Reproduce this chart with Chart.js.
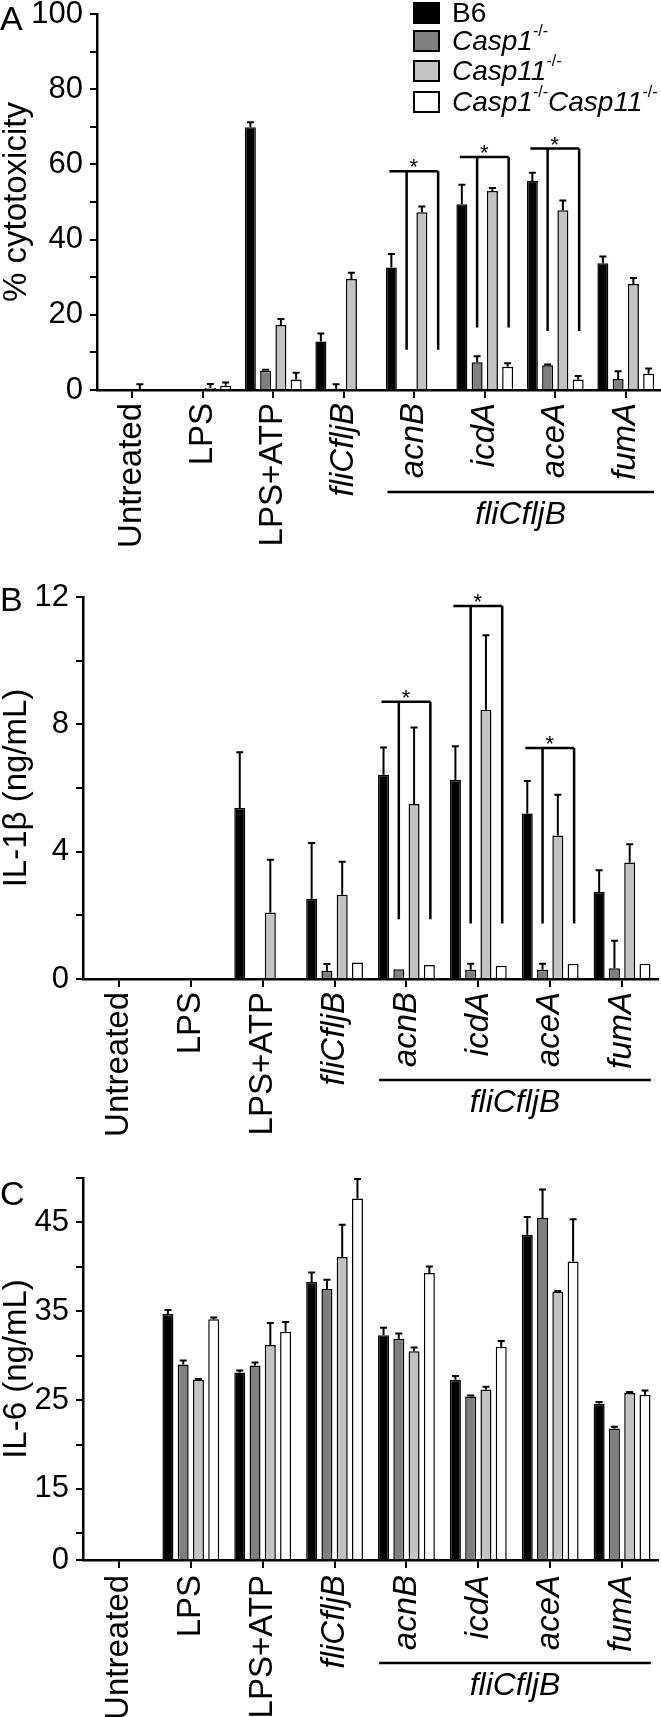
<!DOCTYPE html>
<html lang="en">
<head>
<meta charset="UTF-8">
<title>Cytotoxicity, IL-1β and IL-6</title>
<script src="https://cdn.jsdelivr.net/npm/chart.js"></script>
<style>
    body { margin: 0; background: #fff; }
    #page { position: relative; width: 661px; height: 1717px; overflow: hidden;
            font-family: 'Liberation Sans', Arial, sans-serif; color: #000; }
    #page canvas { position: absolute; left: 0; }
    .panel { position: absolute; left: 0; font-size: 34px; line-height: 1; }
    #legend { position: absolute; left: 413px; top: 0; font-size: 28px; }
    .row { position: absolute; left: 0; display: flex; align-items: center; height: 23px; white-space: nowrap; }
    .box { width: 27px; height: 22px; box-sizing: border-box; border: 2px solid #000; margin-right: 12px; flex: none; }
    .sup { font-size: 16px; position: relative; top: -10px; }
</style>
</head>
<body>
<div id="page">
    <canvas id="chartA" width="661" height="580" style="top:0"></canvas>
    <canvas id="chartB" width="661" height="560" style="top:580px"></canvas>
    <canvas id="chartC" width="661" height="567" style="top:1150px"></canvas>
    <div class="panel" style="top:1px">A</div>
    <div class="panel" style="top:582px">B</div>
    <div class="panel" style="top:1176px">C</div>
    <div id="legend">
        <div class="row" style="top:1px"><span class="box" style="background:#000"></span>B6</div>
        <div class="row" style="top:29px"><span class="box" style="background:#7f7f7f"></span><i>Casp1</i><span class="sup">-/-</span></div>
        <div class="row" style="top:59px"><span class="box" style="background:#c3c3c3"></span><i>Casp11</i><span class="sup">-/-</span></div>
        <div class="row" style="top:90px"><span class="box" style="background:#fff"></span><i>Casp1</i><span class="sup">-/-</span><i>Casp11</i><span class="sup">-/-</span></div>
    </div>
</div>

<script>
    const FONT = "'Liberation Sans', Arial, sans-serif";

    const categories = ['Untreated', 'LPS', 'LPS+ATP', 'fliCfljB', 'acnB', 'icdA', 'aceA', 'fumA'];
    const italicCats = [3, 4, 5, 6, 7];
    const genotypes = ['B6', 'Casp1-/-', 'Casp11-/-', 'Casp1-/-Casp11-/-'];
    const fills = ['#000000', '#7f7f7f', '#c3c3c3', '#ffffff'];

    // A: % cytotoxicity (mean, SD)
    const cytoB6 = [0, 0, 69.9, 12.9, 32.6, 49.4, 55.6, 33.7];
    const cytoB6Err = [0, 0, 1.3, 2.1, 3.6, 5.2, 2.2, 1.8];
    const cytoCasp1 = [0.3, 0, 5.1, 0.3, 0, 7.4, 6.6, 2.9];
    const cytoCasp1Err = [0, 0, 0.3, 1.2, 0, 1.6, 0.2, 2.1];
    const cytoCasp11 = [0, 0.5, 17.3, 29.5, 47.3, 52.9, 47.8, 28.2];
    const cytoCasp11Err = [1.5, 1.1, 1.6, 1.7, 1.5, 0.8, 2.6, 1.6];
    const cytoDko = [0, 1.1, 2.8, 0, 0, 6.2, 2.8, 4.3];
    const cytoDkoErr = [0, 0.9, 1.8, 0, 0, 0.9, 0.9, 1.4];

    // B: IL-1b ng/mL
    const il1bB6 = [0, 0, 5.37, 2.52, 6.42, 6.25, 5.2, 2.73];
    const il1bB6Err = [0, 0, 1.75, 1.75, 0.85, 1.06, 1.02, 0.69];
    const il1bCasp1 = [0, 0, 0, 0.26, 0.31, 0.29, 0.29, 0.34];
    const il1bCasp1Err = [0, 0, 0, 0.21, 0, 0.19, 0.19, 0.86];
    const il1bCasp11 = [0, 0, 2.09, 2.65, 5.5, 8.46, 4.51, 3.66];
    const il1bCasp11Err = [0, 0, 1.66, 1.03, 2.4, 2.34, 1.28, 0.57];
    const il1bDko = [0, 0, 0, 0.52, 0.44, 0.42, 0.48, 0.48];
    const il1bDkoErr = [0, 0, 0, 0, 0, 0, 0, 0];

    // C: IL-6 ng/mL
    const il6B6 = [0, 34.7, 28.1, 38.3, 32.3, 27.3, 43.6, 24.6];
    const il6B6Err = [0, 0.45, 0.23, 1.06, 0.83, 0.42, 2.0, 0.19];
    const il6Casp1 = [0, 29.0, 28.9, 37.5, 31.9, 25.4, 45.5, 21.8];
    const il6Casp1Err = [0, 0.46, 0.34, 1.05, 0.6, 0.11, 3.2, 0.19];
    const il6Casp11 = [0, 27.3, 31.2, 41.1, 30.5, 26.2, 37.2, 25.8];
    const il6Casp11Err = [0, 0.08, 2.49, 3.63, 0.41, 0.3, 0.07, 0.12];
    const il6Dko = [0, 34.1, 32.7, 47.7, 39.3, 31.0, 40.6, 25.6];
    const il6DkoErr = [0, 0.19, 1.09, 2.19, 0.75, 0.64, 4.75, 0.49];

    // significance brackets: category, bracket top, bracket bottom (axis units)
    const sigCatsA = [4, 5, 6];
    const sigTopA = [58.2, 62.0, 64.2];
    const sigBottomA = [10.7, 16.6, 15.7];
    const sigCatsB = [4, 5, 6];
    const sigTopB = [8.71, 11.72, 7.26];
    const sigBottomB = [1.88, 1.74, 1.74];

    // y tick values / labels
    const yTicksC = [0, 10, 15, 20, 25, 30, 35, 40, 45, 50];
    const yLabelsA = [0, 20, 40, 60, 80, 100];
    const yLabelsB = [0, 4, 8, 12];
    const yLabelsC = [0, 15, 25, 35, 45];

    // linear axis with the 0-10 stretch squeezed (broken axis in panel C)
    const SQUEEZE_BELOW = 10, SQUEEZE = 0.3;
    class BrokenLinearScale extends Chart.LinearScale {
        warp(v) { return v >= SQUEEZE_BELOW ? v : SQUEEZE_BELOW - (SQUEEZE_BELOW - v) * SQUEEZE; }
        getPixelForValue(v) {
            const lo = this.warp(this.min), hi = this.warp(this.max);
            return this.getPixelForDecimal((this.warp(v) - lo) / (hi - lo));
        }
        getValueForPixel(p) {
            const lo = this.warp(this.min), hi = this.warp(this.max);
            const t = lo + this.getDecimalForPixel(p) * (hi - lo);
            return t >= SQUEEZE_BELOW ? t : SQUEEZE_BELOW - (SQUEEZE_BELOW - t) / SQUEEZE;
        }
    }
    BrokenLinearScale.id = 'brokenLinear';
    BrokenLinearScale.defaults = Chart.LinearScale.defaults;
    Chart.register(BrokenLinearScale);

    const errorBars = {
        id: 'errorBars',
        afterDatasetsDraw(chart) {
            const ctx = chart.ctx, y = chart.scales.y;
            ctx.save();
            ctx.strokeStyle = '#000';
            ctx.lineWidth = 2;
            chart.data.datasets.forEach((ds, i) => {
                const meta = chart.getDatasetMeta(i);
                ds.errors.forEach((e, j) => {
                    if (!e) return;
                    const v = ds.data[j] || 0;
                    const x = meta.data[j].x;
                    const y0 = y.getPixelForValue(v), y1 = y.getPixelForValue(v + e);
                    ctx.beginPath();
                    ctx.moveTo(x, y0); ctx.lineTo(x, y1);
                    ctx.moveTo(x - 3.5, y1); ctx.lineTo(x + 3.5, y1);
                    ctx.stroke();
                });
            });
            ctx.restore();
        }
    };

    function groupLabel(from, to, text, lineGap, textGap) {
        return {
            id: 'groupLabel',
            afterDraw(chart) {
                const ctx = chart.ctx, x = chart.scales.x;
                const step = x.getPixelForValue(1) - x.getPixelForValue(0);
                const x0 = x.getPixelForValue(from) - 0.38 * step;
                const x1 = Math.min(x.getPixelForValue(to) + 0.4 * step, chart.width - 2);
                const yl = x.top + lineGap;
                ctx.save();
                ctx.strokeStyle = '#000';
                ctx.lineWidth = 2.5;
                ctx.beginPath(); ctx.moveTo(x0, yl); ctx.lineTo(x1, yl); ctx.stroke();
                ctx.fillStyle = '#000';
                ctx.font = 'italic 32px ' + FONT;
                ctx.textAlign = 'center';
                ctx.textBaseline = 'alphabetic';
                ctx.fillText(text, (x0 + x1) / 2, yl + textGap);
                ctx.restore();
            }
        };
    }

    function sigBrackets(cats, tops, bottoms) {
        return {
            id: 'sigBrackets',
            afterDraw(chart) {
                const ctx = chart.ctx, y = chart.scales.y;
                const b6 = chart.getDatasetMeta(0).data, c1 = chart.getDatasetMeta(1).data, dko = chart.getDatasetMeta(3).data;
                ctx.save();
                ctx.strokeStyle = '#000';
                ctx.fillStyle = '#000';
                ctx.lineWidth = 2.5;
                ctx.font = '22px ' + FONT;
                ctx.textAlign = 'center';
                cats.forEach((c, k) => {
                    const xl = b6[c].x - 2, xa = c1[c].x, xb = dko[c].x + 1;
                    const yt = y.getPixelForValue(tops[k]), yb = y.getPixelForValue(bottoms[k]);
                    ctx.beginPath();
                    ctx.moveTo(xl, yt); ctx.lineTo(xb, yt);
                    ctx.moveTo(xa, yt); ctx.lineTo(xa, yb);
                    ctx.moveTo(xb, yt); ctx.lineTo(xb, yb);
                    ctx.stroke();
                    ctx.fillText('*', (xl + xb) / 2, yt + 3);
                });
                ctx.restore();
            }
        };
    }

    function barChart(id, means, errs, cfg) {
        return new Chart(document.getElementById(id), {
            type: 'bar',
            data: {
                labels: categories,
                datasets: means.map((m, i) => ({
                    label: genotypes[i],
                    data: m,
                    errors: errs[i],
                    backgroundColor: fills[i],
                    borderColor: '#000',
                    borderWidth: 1.5,
                    categoryPercentage: cfg.catPct,
                    barPercentage: 0.72
                }))
            },
            options: {
                responsive: false,
                animation: false,
                devicePixelRatio: 1,
                layout: { padding: { top: cfg.padTop, right: cfg.padRight, left: 0, bottom: 0 } },
                plugins: { legend: { display: false }, tooltip: { enabled: false } },
                scales: {
                    x: {
                        grid: { offset: false, drawOnChartArea: false, tickLength: 8, lineWidth: 2, color: '#000' },
                        border: { color: '#000', width: 2.5 },
                        ticks: {
                            autoSkip: false, minRotation: 90, maxRotation: 90, padding: cfg.xPad, color: '#000',
                            font: {
                                family: FONT,
                                size: 33,
                                style: (c) => italicCats.includes(c.index) ? 'italic' : 'normal'
                            }
                        },
                        afterFit: (s) => { s.height = cfg.xHeight; s.paddingLeft = 0; s.paddingRight = 0; }
                    },
                    y: {
                        type: cfg.yType,
                        min: 0,
                        max: cfg.yMax,
                        ticks: {
                            stepSize: cfg.yStep, autoSkip: false, padding: 7, color: '#000',
                            font: { family: FONT, size: 31 },
                            callback: (v) => cfg.yLabels.includes(v) ? String(v) : ''
                        },
                        afterBuildTicks: (s) => { if (cfg.yTicks) s.ticks = cfg.yTicks.map(v => ({ value: v })); },
                        grid: { drawOnChartArea: false, tickLength: 7, lineWidth: 2, color: '#000' },
                        border: { color: '#000', width: 2.5 },
                        title: { display: true, text: cfg.yTitle, color: '#000', font: { family: FONT, size: 33, lineHeight: 1.05 }, padding: 0 },
                        afterFit: (s) => { s.width = cfg.yWidth; s.paddingTop = 0; s.paddingBottom = 0; }
                    }
                }
            },
            plugins: [errorBars, groupLabel(4, 7, 'fliCfljB', cfg.lineGap, 32)].concat(cfg.sig ? [cfg.sig] : [])
        });
    }

    barChart('chartA',
        [cytoB6, cytoCasp1, cytoCasp11, cytoDko],
        [cytoB6Err, cytoCasp1Err, cytoCasp11Err, cytoDkoErr],
        { catPct: 0.866, padTop: 14, padRight: 0, xPad: 5, xHeight: 190, yWidth: 97,
          yType: 'linear', yMax: 100, yStep: 10, yLabels: yLabelsA, yTitle: '% cytotoxicity',
          lineGap: 102, sig: sigBrackets(sigCatsA, sigTopA, sigBottomA) });

    barChart('chartB',
        [il1bB6, il1bCasp1, il1bCasp11, il1bDko],
        [il1bB6Err, il1bCasp1Err, il1bCasp11Err, il1bDkoErr],
        { catPct: 0.85, padTop: 17, padRight: 3, xPad: 5, xHeight: 161, yWidth: 83,
          yType: 'linear', yMax: 12, yStep: 2, yLabels: yLabelsB, yTitle: 'IL-1β (ng/mL)',
          lineGap: 101, sig: sigBrackets(sigCatsB, sigTopB, sigBottomB) });

    barChart('chartC',
        [il6B6, il6Casp1, il6Casp11, il6Dko],
        [il6B6Err, il6Casp1Err, il6Casp11Err, il6DkoErr],
        { catPct: 0.85, padTop: 28, padRight: 3, xPad: 7, xHeight: 157, yWidth: 83,
          yType: 'brokenLinear', yMax: 50, yStep: 5, yTicks: yTicksC, yLabels: yLabelsC, yTitle: 'IL-6 (ng/mL)',
          lineGap: 103, sig: null });
</script>
</body>
</html>
